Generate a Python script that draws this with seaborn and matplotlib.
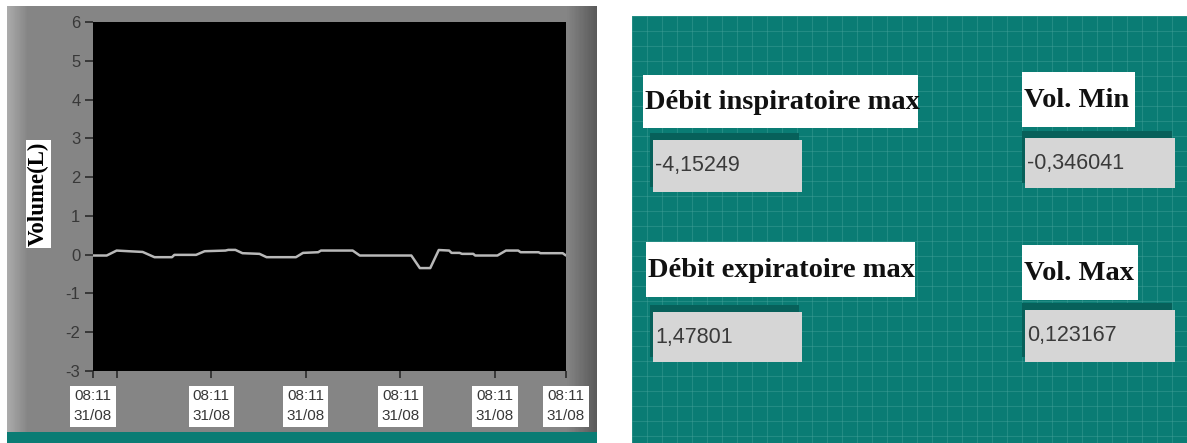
import matplotlib
matplotlib.use("Agg")
import numpy as np
import pandas as pd
import matplotlib.pyplot as plt
import seaborn as sns
from matplotlib.patches import Rectangle
from matplotlib import font_manager
from matplotlib.colors import to_rgb

# ---- data -----------------------------------------------------------------
times = [0.00, 0.29, 0.50, 0.75, 1.05, 1.30, 1.67, 1.72, 2.18, 2.36, 2.80, 2.86,
         3.01, 3.16, 3.52, 3.67, 4.29, 4.44, 4.76, 4.82, 5.49, 5.64, 6.73, 6.91,
         7.13, 7.31, 7.53, 7.58, 7.75, 7.80, 8.04, 8.08, 8.55, 8.73, 8.99, 9.04,
         9.42, 9.46, 9.93, 10.00]
volume = [-0.022, -0.022, 0.106, 0.089, 0.070, -0.065, -0.065, -0.005, -0.005,
          0.089, 0.106, 0.123167, 0.123167, 0.038, 0.021, -0.065, -0.065, 0.046,
          0.063, 0.106, 0.106, -0.022, -0.022, -0.346041, -0.346041, 0.120,
          0.106, 0.046, 0.046, 0.021, 0.021, -0.022, -0.022, 0.106, 0.106, 0.063,
          0.063, 0.038, 0.038, -0.022]

y_ticks = [-3, -2, -1, 0, 1, 2, 3, 4, 5, 6]
x_ticks = [0.0, 0.5, 2.5, 4.5, 6.5, 8.5, 10.0]
x_tick_labels = ["08:11\n31/08", "", "08:11\n31/08", "08:11\n31/08",
                 "08:11\n31/08", "08:11\n31/08", "08:11\n31/08"]

indicator_names = ["Débit inspiratoire max", "Vol. Min",
                   "Débit expiratoire max", "Vol. Max"]
indicator_values = [-4.15249, -0.346041, 1.47801, 0.123167]

# ---- style ----------------------------------------------------------------
sns.set_theme(style="white")
plt.rcParams["font.family"] = ["Liberation Sans", "DejaVu Sans"]

W, H = 1187, 443
TEAL = "#0a7c74"
FRAME = "#858585"


def px_axes(x0, y0, x1, y1):
    return [x0 / W, 1 - y1 / H, (x1 - x0) / W, (y1 - y0) / H]


def gradient(ax, x0, x1, y0, y1, c0, c1, n=24):
    c0, c1 = np.array(to_rgb(c0)), np.array(to_rgb(c1))
    xs = np.linspace(x0, x1, n + 1)
    for i in range(n):
        c = c0 + (c1 - c0) * i / (n - 1)
        ax.add_patch(Rectangle((xs[i], y0), xs[i + 1] - xs[i] + 0.3, y1 - y0,
                               color=c, lw=0))


fig = plt.figure(figsize=(W / 100, H / 100), dpi=100)
fig.patch.set_facecolor("white")

# background layer in pixel units: chart frame and bottom strip
bg = fig.add_axes([0, 0, 1, 1])
bg.set_xlim(0, W)
bg.set_ylim(H, 0)
bg.axis("off")
bg.add_patch(Rectangle((7, 6), 590, 426, color=FRAME, lw=0))
gradient(bg, 7, 27, 6, 432, "#ababab", "#878787")
gradient(bg, 566, 597, 6, 432, "#858585", "#5a5a5a")
bg.add_patch(Rectangle((7, 432), 590, 11, color=TEAL, lw=0))

# ---- waveform chart ---------------------------------------------------------
ax = fig.add_axes(px_axes(93, 22, 566, 371))
ax.set_facecolor("black")
df = pd.DataFrame({"t": times, "v": volume})
sns.lineplot(data=df, x="t", y="v", ax=ax, color="#b8b8b8", linewidth=1.8)
ax.set_xlim(0, 10)
ax.set_ylim(-3, 6)
ax.set_yticks(y_ticks)
ax.set_yticklabels([str(v) for v in y_ticks])
ax.set_xticks(x_ticks)
ax.set_xticklabels(x_tick_labels)
for s in ax.spines.values():
    s.set_visible(False)
ax.tick_params(axis="y", left=True, direction="out", length=6, width=1.2,
               color="#2a2a2a", labelsize=12, labelcolor="#383838", pad=3)
ax.tick_params(axis="x", bottom=True, direction="out", length=5, width=1.2,
               color="#2a2a2a", labelsize=11, labelcolor="#383838", pad=8)
for lab in ax.get_xticklabels():
    lab.set_linespacing(1.55)
    if lab.get_text():
        lab.set_bbox(dict(facecolor="white", edgecolor="none", pad=2.5))
ax.set_xlabel("")
ax.set_ylabel("Volume(L)", fontfamily="Liberation Serif", fontweight="bold",
              fontsize=16.5, color="black",
              bbox=dict(facecolor="white", edgecolor="none", pad=1.5))
ax.yaxis.set_label_coords((49 - 93) / 473, 0.507)

# ---- indicator panel --------------------------------------------------------
pan = fig.add_axes(px_axes(632, 16, W, H))
pan.set_facecolor(TEAL)
pan.set_xlim(632, W)
pan.set_ylim(H, 16)
pan.set_xticks(np.arange(632, W, 15))
pan.set_yticks(np.arange(16, H, 15))
pan.tick_params(left=False, bottom=False, labelleft=False, labelbottom=False)
pan.grid(True, color="#4aa59d", linewidth=0.8, alpha=0.4)
for s in pan.spines.values():
    s.set_visible(False)

names_avail = {f.name for f in font_manager.fontManager.ttflist}
if "Liberation Sans Narrow" in names_avail:
    val_family, val_size = "Liberation Sans Narrow", 18
else:
    val_family, val_size = "Liberation Sans", 15.5

label_boxes = [(643, 75, 918, 128), (1022, 72, 1135, 127),
               (646, 242, 915, 297), (1022, 245, 1138, 300)]
value_boxes = [(653, 140, 802, 192), (1025, 138, 1175, 188),
               (653, 312, 802, 362), (1025, 310, 1175, 362)]

for name, val, lb, vb in zip(indicator_names, indicator_values,
                             label_boxes, value_boxes):
    x0, y0, x1, y1 = lb
    pan.add_patch(Rectangle((x0, y0), x1 - x0, y1 - y0, color="white", lw=0,
                            zorder=3))
    pan.text(x0 + 2, (y0 + y1) / 2 + 1, name, fontfamily="Liberation Serif",
             fontweight="bold", fontsize=20.5, color="#111111",
             ha="left", va="center", zorder=4)
    x0, y0, x1, y1 = vb
    pan.add_patch(Rectangle((x0 - 3, y0 - 7), x1 - x0, y1 - y0 + 2,
                            color="#07605a", lw=0, zorder=3))
    pan.add_patch(Rectangle((x0, y0), x1 - x0, y1 - y0, color="#d6d6d6",
                            lw=0, zorder=4))
    txt = f"{val:.6g}".replace(".", ",")
    pan.text(x0 + 2, (y0 + y1) / 2, txt, fontfamily=val_family,
             fontsize=val_size, color="#3a3a3a", ha="left", va="center",
             zorder=5)

fig.savefig("out.png", dpi=100, facecolor="white")
